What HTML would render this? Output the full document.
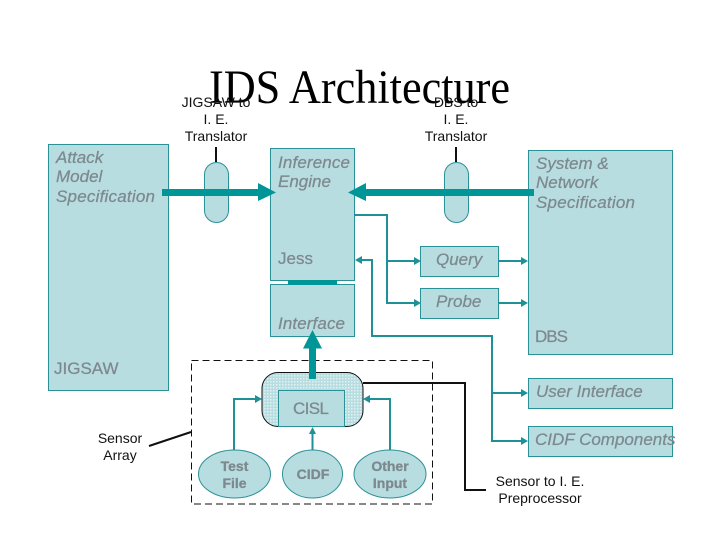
<!DOCTYPE html>
<html><head><meta charset="utf-8"><style>
html,body{margin:0;padding:0;background:#fff}
svg{display:block}
text{font-family:"Liberation Sans",sans-serif}
.g{fill:#7d898e;font-size:17px;stroke:#7d898e;stroke-width:.25px}
.i{font-style:italic}
.s{font-size:14px;fill:#7d898e;stroke:#7d898e;stroke-width:.3px;font-weight:bold}
.k{fill:#111;font-size:14px}
.b{fill:#b8dde1;stroke:#2a9197;stroke-width:1}
.c{fill:none;stroke:#1f9196;stroke-width:2}
.h{fill:#1f9196}
.t{fill:#009596}
</style></head><body>
<svg width="720" height="540" viewBox="0 0 720 540" xmlns="http://www.w3.org/2000/svg">
<defs><pattern id="p" width="3" height="3" patternUnits="userSpaceOnUse"><rect width="3" height="3" fill="#b8dde1"/><rect width="1.5" height="1.5" fill="#e2f1f2"/></pattern></defs>
<rect width="720" height="540" fill="#fff"/>

<rect class="b" x="48.5" y="144.5" width="120" height="246"/>
<rect class="b" x="270.5" y="148.5" width="84" height="132"/>
<rect class="b" x="270.5" y="284.5" width="84" height="52"/>
<rect class="b" x="528.5" y="150.5" width="144" height="204"/>
<rect class="b" x="420.5" y="246.5" width="78" height="30"/>
<rect class="b" x="420.5" y="288.5" width="78" height="30"/>
<rect class="b" x="528.5" y="378.5" width="144" height="30"/>
<rect class="b" x="528.5" y="426.5" width="144" height="30"/>
<rect class="b" x="204.5" y="162.5" width="24" height="60" rx="12"/>
<rect class="b" x="444.5" y="162.5" width="24" height="60" rx="12"/>
<rect x="288" y="280" width="49" height="5" class="t"/>

<path d="M216 147V162M456 147V162" stroke="#111" stroke-width="2" fill="none"/>
<rect class="t" x="162" y="189" width="97" height="7"/>
<path class="t" d="M258 183L276 192.500L258 201Z"/>
<rect class="t" x="365" y="189" width="169" height="7"/>
<path class="t" d="M366 183L348 192.500L366 201Z"/>

<path class="c" d="M354 215H387V303H416M387 261H416M498 261H524M498 303H524"/>
<path class="c" d="M360 260H372V336H492V441H524M492 393H524"/>
<path class="h" d="M414 257L421 261L414 265ZM414 299L421 303L414 307ZM521 257L528 261L521 265ZM521 299L528 303L521 307ZM521 389L528 393L521 397ZM521 437L528 441L521 445ZM362 256L355 260L362 264Z"/>

<rect x="191.500" y="360.500" width="241" height="143.500" fill="none" stroke="#111" stroke-width="1" stroke-dasharray="7 4"/>
<rect x="262" y="372.500" width="101" height="54" rx="16" fill="url(#p)" stroke="#111" stroke-width="1"/>
<rect class="b" x="278.500" y="390.500" width="66" height="36"/>
<rect class="t" x="309" y="346" width="7" height="33"/>
<path class="t" d="M312.500 330L322 348.500H303Z"/>

<ellipse class="b" cx="234.500" cy="474" rx="36" ry="24"/>
<ellipse class="b" cx="312.500" cy="474" rx="30" ry="24"/>
<ellipse class="b" cx="390" cy="474" rx="36" ry="24"/>
<path class="c" d="M234 450V399H258M312.500 450V432M390 450V399H368"/>
<path class="h" d="M255 395L262 399L255 403ZM309 434L312.500 427L316 434ZM370 395L363 399L370 403Z"/>

<path d="M363 383H465V490H486" fill="none" stroke="#111" stroke-width="2"/>
<path d="M149 446L191 432" fill="none" stroke="#111" stroke-width="2"/>

<text x="209" y="103" font-size="47.500" textLength="301" lengthAdjust="spacingAndGlyphs" fill="#000" style="font-family:'Liberation Serif',serif">IDS Architecture</text>

<g class="k" text-anchor="middle">
<text x="216" y="107" class="k">JIGSAW to</text>
<text x="216" y="124" class="k">I. E.</text>
<text x="216" y="141" class="k">Translator</text>
<text x="456" y="107" class="k">DBS to</text>
<text x="456" y="124" class="k">I. E.</text>
<text x="456" y="141" class="k">Translator</text>
<text x="120" y="443" class="k">Sensor</text>
<text x="120" y="460" class="k">Array</text>
<text x="540" y="486" class="k">Sensor to I. E.</text>
<text x="540" y="503" class="k">Preprocessor</text>
</g>

<text class="g i" x="56" y="163">Attack</text>
<text class="g i" x="56" y="182">Model</text>
<text class="g i" x="56" y="202" textLength="99">Specification</text>
<text class="g i" x="278" y="168" textLength="72">Inference</text>
<text class="g i" x="278" y="187">Engine</text>
<text class="g" x="278" y="264">Jess</text>
<text class="g i" x="278" y="329" textLength="67">Interface</text>
<text class="g i" x="536" y="169">System &amp;</text>
<text class="g i" x="536" y="188">Network</text>
<text class="g i" x="536" y="208" textLength="99">Specification</text>
<text class="g" x="535" y="342" textLength="33">DBS</text>
<text class="g i" x="436" y="265">Query</text>
<text class="g i" x="436" y="307">Probe</text>
<text class="g i" x="536" y="397">User Interface</text>
<text class="g i" x="535" y="445">CIDF Components</text>
<text class="g" x="54" y="374">JIGSAW</text>
<text class="g" x="293" y="414" textLength="36">CISL</text>
<g text-anchor="middle">
<text class="s" x="234.500" y="471">Test</text>
<text class="s" x="234.500" y="488">File</text>
<text class="s" x="313" y="479">CIDF</text>
<text class="s" x="390" y="471">Other</text>
<text class="s" x="390" y="488">Input</text>
</g>
</svg>
</body></html>
